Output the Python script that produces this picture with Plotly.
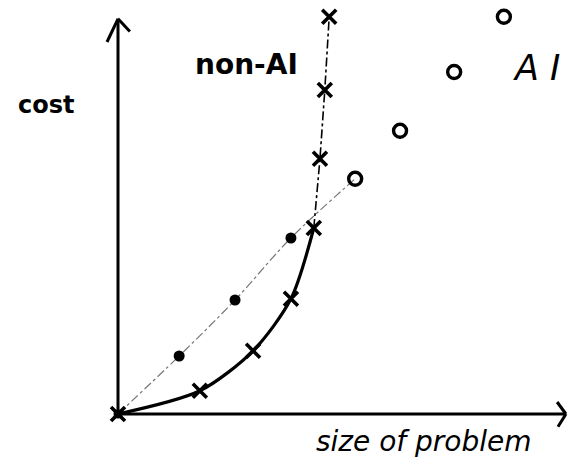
import plotly.graph_objects as go

# Non-AI approach: cost rises steeply with problem size
nonai_size = [0, 1.86, 3.07, 3.93, 4.45, 4.59, 4.70, 4.80]
nonai_cost = [0, 0.58, 1.58, 2.88, 4.65, 6.38, 8.10, 9.93]

# AI approach: measured points (filled) and projected points (open)
ai_size_measured = [0, 1.39, 2.66, 3.93]
ai_cost_measured = [0, 1.45, 2.85, 4.40]
ai_size_projected = [5.39, 6.41, 7.64, 8.77]
ai_cost_projected = [5.88, 7.08, 8.55, 9.93]

INK = "#000000"
HAND = "DejaVu Sans, sans-serif"

fig = go.Figure()

# AI trend: faint dash-dot line through measured points toward projection
fig.add_trace(go.Scatter(
    x=ai_size_measured + ai_size_projected[:1],
    y=ai_cost_measured + ai_cost_projected[:1],
    mode="lines", line=dict(color="#777777", width=1.2, dash="dashdot", shape="spline"),
    hoverinfo="skip", showlegend=False))

# Non-AI curve: heavy solid for the lower part, thin dash-dot above
fig.add_trace(go.Scatter(
    x=nonai_size[:5], y=nonai_cost[:5],
    mode="lines", line=dict(color=INK, width=3.2, shape="spline", smoothing=0.8),
    hoverinfo="skip", showlegend=False))
fig.add_trace(go.Scatter(
    x=nonai_size[4:], y=nonai_cost[4:],
    mode="lines", line=dict(color=INK, width=1.6, dash="dashdot"),
    hoverinfo="skip", showlegend=False))

# Non-AI markers
fig.add_trace(go.Scatter(
    x=nonai_size, y=nonai_cost, mode="markers",
    marker=dict(symbol="x-thin", size=14, color=INK, line=dict(color=INK, width=3.6)),
    showlegend=False))

# AI measured markers (filled dots)
fig.add_trace(go.Scatter(
    x=ai_size_measured[1:], y=ai_cost_measured[1:], mode="markers",
    marker=dict(symbol="circle", size=11, color=INK),
    showlegend=False))

# AI projected markers (open ovals)
fig.add_trace(go.Scatter(
    x=ai_size_projected, y=ai_cost_projected, mode="markers",
    marker=dict(symbol="circle-open", size=13, color=INK, line=dict(color=INK, width=3.4)),
    showlegend=False))

# Origin dot
fig.add_trace(go.Scatter(
    x=[0], y=[0], mode="markers",
    marker=dict(symbol="circle", size=9, color=INK), showlegend=False))

# Hand-drawn style axes with open arrowheads
x_end, y_end = 10.18, 9.88
shapes = [
    dict(type="line", x0=0, y0=0, x1=x_end, y1=0, line=dict(color=INK, width=3)),
    dict(type="line", x0=0, y0=0, x1=0, y1=y_end, line=dict(color=INK, width=3)),
    dict(type="line", x0=x_end - 0.2, y0=0.3, x1=x_end, y1=0, line=dict(color=INK, width=3)),
    dict(type="line", x0=x_end - 0.18, y0=-0.32, x1=x_end, y1=0, line=dict(color=INK, width=3)),
    dict(type="line", x0=-0.25, y0=y_end - 0.58, x1=0, y1=y_end, line=dict(color=INK, width=3)),
    dict(type="line", x0=0.27, y0=y_end - 0.32, x1=0, y1=y_end, line=dict(color=INK, width=3)),
]

annotations = [
    dict(x=2.93, y=8.75, text="<b>non-AI</b>", showarrow=False,
         font=dict(family=HAND, size=28, color=INK)),
    dict(x=9.5, y=8.65, text="<i>A I</i>", showarrow=False,
         font=dict(family=HAND, size=35, color=INK)),
    dict(x=-1.63, y=7.72, text="<b>cost</b>", showarrow=False,
         font=dict(family=HAND, size=24, color=INK)),
    dict(x=6.96, y=-0.68, text="<i>size of problem</i>", showarrow=False,
         font=dict(family=HAND, size=28, color=INK)),
]

fig.update_layout(
    width=568, height=462,
    margin=dict(l=0, r=0, t=0, b=0),
    paper_bgcolor="white", plot_bgcolor="white",
    xaxis=dict(range=[-118 / 44, 450 / 44], visible=False, fixedrange=True),
    yaxis=dict(range=[-48 / 40, 414 / 40], visible=False, fixedrange=True),
    shapes=shapes, annotations=annotations,
)

fig.write_html("out.html")
